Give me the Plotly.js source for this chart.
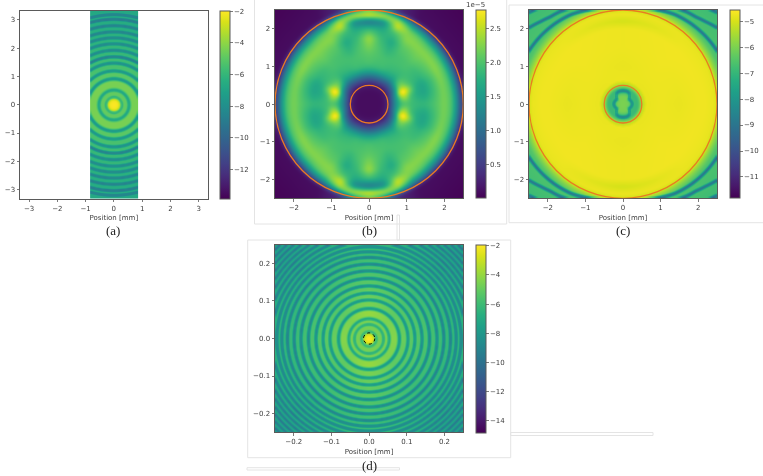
<!DOCTYPE html>
<html><head><meta charset="utf-8">
<script src="https://cdn.plot.ly/plotly-3.0.1.min.js"></script>
<style>html,body{margin:0;padding:0;background:#fff;overflow:hidden}#plot{width:763px;height:476px;filter:blur(0.55px)}</style>
</head><body><div id="plot"></div>
<script>
// ---------- values ----------
// (a) radial ring structure
const aRingR  = [0.27,0.52,0.93,1.20,1.48,1.70,1.93,2.16,2.37,2.58,2.80,3.03,3.19];
const aRingLo = [-7.4,-7.8,-8.8,-9.2,-9.8,-11.4,-10.2,-10.4,-10.6,-10.8,-10.8,-11.8,-12.0];
const aLobeHi = [-4.8,-4.4,-5.0,-5.4,-5.7,-5.9,-6.0,-6.2,-6.3,-6.4,-6.5,-6.6,-6.7];
const aCoreR  = [0,0.1,0.18,0.23,0.27];
const aCoreV  = [-2,-2.05,-2.5,-3.8,-7.4];
// (d) radial ring structure
const dRingR  = [0.0195,0.039,0.053,0.081,0.104,0.122,0.141,0.161,0.181,0.199,0.217,0.232,0.245,0.258,0.271,0.284,0.296,0.308,0.320,0.332,0.344,0.356];
const dRingLo = [-7.4,-8.2,-8.6,-9.2,-9.8,-10.2,-10.6,-10.8,-11,-11.4,-11.6,-11.8,-12,-12,-12.2,-12.2,-12.2,-12.4,-12.4,-12.4,-12.6,-12.6];
const dLobeHi = [-4.6,-4.6,-4.3,-4.9,-5.2,-5.4,-5.6,-5.8,-6.0,-6.2,-6.4,-6.5,-6.6,-6.7,-6.8,-6.9,-7.0,-7.0,-7.1,-7.1,-7.2,-7.2];
const dCoreR  = [0,0.006,0.011,0.015,0.0195];
const dCoreV  = [-2,-2.1,-2.6,-3.8,-7.4];
const dLobeAng   = [0,45,75,90];
const dLobeShift = [0,-0.2,0.2,0.35];
// (b) polar table, units of 1e-5 (rows: angle, columns: radius)
const bAngles = [0,12,20,28,45,60,70,80,90];
const bRadii  = [0,0.35,0.5,0.6,0.75,0.88,1,1.12,1.3,1.5,1.75,2,2.2,2.35,2.45,2.55,3.6];
const bTable  = [
 [.1,.1,.25,.8,1.6,1.9,1.95,1.9,1.85,1.85,2.0,2.22,2.0,1.3,.6,.1,.02],
 [.1,.1,.25,.8,1.6,2.4,2.45,1.95,1.7,1.6,1.9,2.22,2.0,1.3,.6,.1,.02],
 [.1,.1,.25,.65,1.5,2.9,2.95,2.4,1.75,1.6,1.9,2.25,2.0,1.3,.6,.1,.02],
 [.1,.1,.2,.5,1.2,2.2,2.35,2.05,1.85,1.8,2.0,2.3,2.0,1.3,.6,.1,.02],
 [.1,.1,.15,.42,.95,1.5,1.75,1.85,1.95,2.0,2.15,2.28,2.0,1.35,.65,.1,.02],
 [.1,.1,.18,.5,1.05,1.6,1.8,1.9,1.95,1.95,2.05,2.3,2.2,1.6,.9,.12,.02],
 [.1,.1,.2,.5,1.1,1.65,1.9,1.95,1.95,1.8,1.65,1.95,2.65,2.35,1.5,.3,.02],
 [.1,.1,.2,.5,1.1,1.65,1.9,1.95,2.0,2.0,1.9,1.7,1.25,2.45,2.2,.6,.02],
 [.1,.1,.2,.5,1.1,1.65,1.9,2.0,2.05,2.2,2.4,1.85,1.0,2.7,2.4,.6,.02]];
// (c) plate, inner peanut and corner curves
const cPlateR   = [0.6,1,1.5,2,2.2,2.4];
const cPlateAng = [0,45,90];
const cPlateV   = [[-4.8,-4.75,-4.8,-4.72,-4.72,-4.8],[-4.8,-4.75,-4.72,-4.7,-4.75,-4.8],[-4.75,-4.8,-4.75,-4.75,-5.05,-4.75]];
const cPeanutAng= [0,20,39,50,56,70,90];
const cPeanutR  = [0.25,0.23,0.205,0.27,0.33,0.36,0.36];
const cInnerRel = [0,0.6,0.82,1];
const cInnerV   = [-6.0,-6.1,-6.7,-9.3];
const cRampR    = [0,0.40,0.45,0.5,0.58,0.8];
const cRampV    = [-6.9,-6.9,-6.2,-5.5,-4.95,-4.75];
const cEdgeR    = [2.4,2.5,2.62,2.75,3.6];
const cEdgeV    = [-4.75,-5.05,-5.9,-6.6,-6.9];
const cCurveAng = [[20,30,40,50,60,70,80,90],[35,40,45,50,55,60,65,70],[40,45,50]];
const cCurveR   = [[2.9,2.87,2.84,2.8,2.75,2.66,2.58,2.55],[3.3,3.2,3.1,3.02,2.98,2.92,2.85,2.75],[3.6,3.47,3.36]];
const cCurveLow = -10.2;
// overlay circles
const sliceRadii = [2.5,0.5];
const spotRadius = [0.015];
// tick labels and captions
const captions = ['(a)','(b)','(c)','(d)'];
const offsetLabel = '1e\u22125';
const xTitle = 'Position [mm]';

// ---------- lookup helpers: turn the tables into the heatmap grid ----------
function interp(xs,ys,x){
  if(x<=xs[0])return ys[0];
  for(let i=1;i<xs.length;i++) if(x<=xs[i]){const t=(x-xs[i-1])/(xs[i]-xs[i-1]);return ys[i-1]+t*(ys[i]-ys[i-1]);}
  return ys[ys.length-1];
}
function ringLookup(r,R,lo,hi,cR,cV,shift){
  if(r<R[0])return interp(cR,cV,r);
  let i=R.length-1; for(let k=0;k<R.length-1;k++) if(r<R[k+1]){i=k;break;}
  const last=i===R.length-1, next=last?R[i]+(R[i]-R[i-1]):R[i+1], gap=next-R[i], w=0.22*gap;
  const da=r-R[i], db=last?Infinity:next-r;
  const nearLo=da<db?lo[i]:lo[i+1], d=Math.min(da,db), top=hi[i]+shift;
  return d>=w?top:nearLo+(top-nearLo)*d/w;
}
function foldAngle(x,y){return Math.atan2(Math.abs(y),Math.abs(x))*180/Math.PI;}
function polarLookup(ang,rad,tab,a,r){
  let j=ang.length-2; for(let k=0;k<ang.length-1;k++) if(a<=ang[k+1]){j=k;break;}
  const t=(a-ang[j])/(ang[j+1]-ang[j]);
  return (1-t)*interp(rad,tab[j],r)+t*interp(rad,tab[j+1],r);
}
function cValue(x,y){
  const r=Math.hypot(x,y),a=foldAngle(x,y),d=interp(cPeanutAng,cPeanutR,a);
  if(r<=d)return interp(cInnerRel,cInnerV,r/d);
  if(r<0.6){return Math.min(interp(cRampR,cRampV,r),interp([0,0.06],[-9.3,-5],r-d));}
  if(r<2.4)return polarLookup(cPlateAng,cPlateR,cPlateV,a,r);
  let v=interp(cEdgeR,cEdgeV,r);
  cCurveAng.forEach((A,i)=>{
    if(a<A[0]||a>A[A.length-1])return;
    const dc=Math.abs(r-interp(A,cCurveR[i],a));
    if(dc<0.05)v=cCurveLow+(v-cCurveLow)*dc/0.05;
  });
  return v;
}
function axisGrid(h,n){const o=[];for(let i=0;i<n;i++)o.push(-h+(2*h)*(i+0.5)/n);return o;}
function grid(xs,ys,f){return ys.map(y=>xs.map(x=>f(x,y)));}
function soften(z,rad){ // local mean over the table-built grid, as in the soft reference image
  const n=z.length,m=z[0].length;
  return z.map((row,i)=>row.map((_,j)=>{let s=0,c=0;
    for(let a=Math.max(0,i-rad);a<=Math.min(n-1,i+rad);a++)for(let b=Math.max(0,j-rad);b<=Math.min(m-1,j+rad);b++){s+=z[a][b];c++;}
    return s/c;}));
}

// ---------- pixel layout ----------
const W=763,H=476;
const fx=p=>p/W, fy=p=>1-p/H;
const aX=axisGrid(0.84,48), aY=axisGrid(3.32,188);
const bX=axisGrid(2.5,188), dX=axisGrid(0.25,188);
const ink='#3c3c3c', spine='#5a5a5a', fontName='"DejaVu Sans", sans-serif';
function cbar(left,top,bottom,tick0,dtick,fmt){
  return {x:fx(left),xref:'paper',xanchor:'left',y:fy(top),yref:'paper',yanchor:'top',
    lenmode:'pixels',len:bottom-top,thicknessmode:'pixels',thickness:9.6,xpad:0,ypad:0,
    outlinecolor:spine,outlinewidth:1,borderwidth:0,ticks:'outside',ticklen:2.5,tickwidth:.8,tickcolor:spine,
    tick0:tick0,dtick:dtick,tickformat:fmt||'',tickfont:{size:7,color:ink,family:fontName},ticklabelposition:'outside'};
}
const traces=[
 {type:'heatmap',x:aX,y:aY,xaxis:'x',yaxis:'y',colorscale:'Viridis',zmin:-13.86,zmax:-1.96,
  z:soften(grid(aX,aY,(x,y)=>ringLookup(Math.hypot(x,y),aRingR,aRingLo,aLobeHi,aCoreR,aCoreV,0)),1),
  colorbar:cbar(220.3,10.7,198.7,-12,2),hoverinfo:'skip'},
 {type:'heatmap',x:bX,y:bX,xaxis:'x2',yaxis:'y2',colorscale:'Viridis',zmin:0.01,zmax:2.77,
  z:soften(soften(grid(bX,bX,(x,y)=>polarLookup(bAngles,bRadii,bTable,foldAngle(x,y),Math.hypot(x,y))),2),2),
  colorbar:cbar(475.7,10,198.3,0.5,0.5,'.1f'),hoverinfo:'skip'},
 {type:'heatmap',x:bX,y:bX,xaxis:'x3',yaxis:'y3',colorscale:'Viridis',zmin:-11.81,zmax:-4.57,
  z:soften(grid(bX,bX,cValue),1),
  colorbar:cbar(729.7,10,198.3,-11,1),hoverinfo:'skip'},
 {type:'heatmap',x:dX,y:dX,xaxis:'x4',yaxis:'y4',colorscale:'Viridis',zmin:-14.82,zmax:-1.93,
  z:soften(grid(dX,dX,(x,y)=>ringLookup(Math.hypot(x,y),dRingR,dRingLo,dLobeHi,dCoreR,dCoreV,Math.hypot(x,y)>0.06?interp(dLobeAng,dLobeShift,foldAngle(x,y)):0)),1),
  colorbar:cbar(475.7,244.7,432.3,-14,2),hoverinfo:'skip'}
];
function axis(d0,d1,anchor,range,dtick,fmt,titled){
  const o={domain:[d0,d1],anchor:anchor,range:range,dtick:dtick,tick0:0,tickformat:fmt||'',
    showgrid:false,zeroline:false,showline:true,mirror:true,linecolor:spine,linewidth:1,
    ticks:'outside',ticklen:2.5,tickwidth:.8,tickcolor:spine,
    tickfont:{size:7,color:ink,family:fontName}};
  if(titled)o.title={text:xTitle,font:{size:7,color:ink,family:fontName},standoff:3};
  return o;
}
const layout={width:W,height:H,margin:{l:0,r:0,t:0,b:0,pad:0,autoexpand:false},paper_bgcolor:'#fff',plot_bgcolor:'#fff',showlegend:false,
 xaxis: axis(fx(20),fx(207.7),'y',[-3.32,3.32],1,'',true),
 yaxis: axis(fy(198.7),fy(10.7),'x',[-3.32,3.32],1),
 xaxis2:axis(fx(275),fx(463.3),'y2',[-2.5,2.5],1,'',true),
 yaxis2:axis(fy(198.3),fy(10),'x2',[-2.5,2.5],1),
 xaxis3:axis(fx(529),fx(717),'y3',[-2.5,2.5],1,'',true),
 yaxis3:axis(fy(198.3),fy(10),'x3',[-2.5,2.5],1),
 xaxis4:axis(fx(275),fx(463.3),'y4',[-0.25,0.25],0.1,'.1f',true),
 yaxis4:axis(fy(432.3),fy(244.7),'x4',[-0.25,0.25],0.1,'.1f'),
 shapes:[],annotations:[]};
// light page furniture behind the panels
const boxes=[[254.5,-5,506.7,224],[509,5,775,222.7],[247.7,240,510.7,457.7],[397,215,399.5,240],[510.7,432.5,653,435.5],[247,467.7,399.5,470]];
boxes.forEach(b=>layout.shapes.push({type:'rect',layer:'below',xref:'paper',yref:'paper',x0:fx(b[0]),x1:fx(b[2]),y0:fy(b[1]),y1:fy(b[3]),line:{color:'#e4e4e4',width:1},fillcolor:'rgba(255,255,255,0)'}));
// orange circles on (b) and (c), dotted spot on (d)
[['x2','y2'],['x3','y3']].forEach(ax=>sliceRadii.forEach(r=>layout.shapes.push({type:'circle',xref:ax[0],yref:ax[1],x0:-r,x1:r,y0:-r,y1:r,line:{color:'#ea7a22',width:1.3}})));
spotRadius.forEach(r=>layout.shapes.push({type:'circle',xref:'x4',yref:'y4',x0:-r,x1:r,y0:-r,y1:r,line:{color:'#000',width:1,dash:'dot'}}));
// captions
const capPos=[[113.5,230],[369,230],[622.7,230],[369,465]];
captions.forEach((c,i)=>layout.annotations.push({text:c,xref:'paper',yref:'paper',x:fx(capPos[i][0]),y:fy(capPos[i][1]),xanchor:'center',yanchor:'middle',showarrow:false,font:{size:13,family:'"Liberation Serif", serif',color:'#222'}}));
layout.annotations.push({text:offsetLabel,xref:'paper',yref:'paper',x:fx(475.5),y:fy(5.5),xanchor:'center',yanchor:'middle',showarrow:false,font:{size:7,color:ink,family:fontName}});
Plotly.newPlot('plot',traces,layout,{staticPlot:true,displayModeBar:false});
</script></body></html>
